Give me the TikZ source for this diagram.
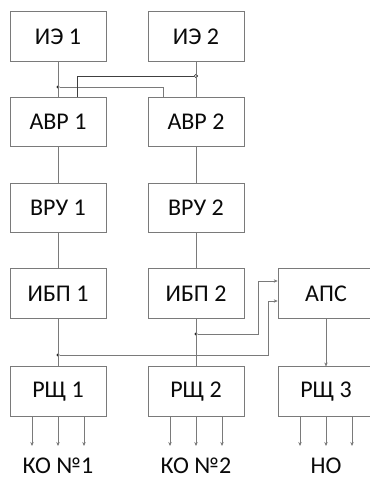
\documentclass[tikz,border=0pt]{standalone}
\usepackage{fontspec}
\setmainfont{Carlito}
\usetikzlibrary{arrows.meta}
\definecolor{ln}{HTML}{7A7A7A}
\definecolor{tx}{HTML}{0A0A0A}
\tikzset{
  blk/.style={draw=ln, line width=0.6pt, minimum width=96pt, minimum height=49.5pt, inner sep=0pt, text=tx, font=\fontsize{24}{27}\selectfont},
  wire/.style={draw=ln, line width=0.6pt},
  dwire/.style={draw=black!75, line width=0.8pt},
  arr/.style={wire, -{Stealth[length=4pt,width=3.4pt]}},
  lbl/.style={text=tx, inner sep=0pt, font=\fontsize{24}{27}\selectfont},
  dotf/.style={circle, fill=black!85, inner sep=0pt, minimum size=3.4pt},
  doto/.style={circle, draw=black!85, fill=white, line width=0.6pt, inner sep=0pt, minimum size=3.4pt}
}
\begin{document}
\begin{tikzpicture}[x=1pt,y=-1pt]
\clip (0,0) rectangle (370,480);
\fill[white] (0,0) rectangle (370,480);
% boxes
\node[blk] (ie1) at (58,36.5) {ИЭ 1};
\node[blk] (ie2) at (196,36.5) {ИЭ 2};
\node[blk] (avr1) at (58,122) {АВР 1};
\node[blk] (avr2) at (196,122) {АВР 2};
\node[blk] (vru1) at (58,208) {ВРУ 1};
\node[blk] (vru2) at (196,208) {ВРУ 2};
\node[blk] (ibp1) at (58,293.5) {ИБП 1};
\node[blk] (ibp2) at (196,293.5) {ИБП 2};
\node[blk] (aps) at (326,293.5) {АПС};
\node[blk] (rsh1) at (58,391.5) {РЩ 1};
\node[blk] (rsh2) at (196,391.5) {РЩ 2};
\node[blk] (rsh3) at (326,391.5) {РЩ 3};
% junction points
\node[dotf] (j1) at (58,87) {};
\node[doto] (j2) at (196,76) {};
\node[dotf] (j3) at (58,355) {};
\node[dotf] (j4) at (196,334) {};
% top cross connections
\draw[wire] (ie1.south) -- (avr1.north);
\draw[wire] (ie2.south) -- (avr2.north);
\draw[wire] (j1) -| ([xshift=-33pt]avr2.north);
\draw[dwire] ([xshift=19pt]avr1.north) |- (j2);
% verticals
\draw[wire] (avr1) -- (vru1);
\draw[wire] (avr2) -- (vru2);
\draw[wire] (vru1) -- (ibp1);
\draw[wire] (vru2) -- (ibp2);
\draw[wire] (ibp1) -- (rsh1);
\draw[wire] (ibp2) -- (rsh2);
\draw[arr] (aps) -- (rsh3);
% АПС inputs
\coordinate (a1) at (258,281);
\coordinate (a2) at (268,301);
\draw[arr] (j4) -| (a1) -- (a1 -| aps.west);
\draw[arr] (j3) -| (a2) -- (a2 -| aps.west);
% outputs
\foreach \n/\x in {rsh1/58, rsh2/196, rsh3/326}{
  \coordinate (\n-l) at (\x-26,446);
  \coordinate (\n-m) at (\x,446);
  \coordinate (\n-r) at (\x+26,446);
  \draw[arr] (\n-l |- \n.south) -- (\n-l);
  \draw[arr] (\n-m |- \n.south) -- (\n-m);
  \draw[arr] (\n-r |- \n.south) -- (\n-r);
}
% labels
\node[lbl] (ko1) at (58,466) {КО №1};
\node[lbl] (ko2) at (196,466) {КО №2};
\node[lbl] (no) at (326,466) {НО};
\end{tikzpicture}
\end{document}
